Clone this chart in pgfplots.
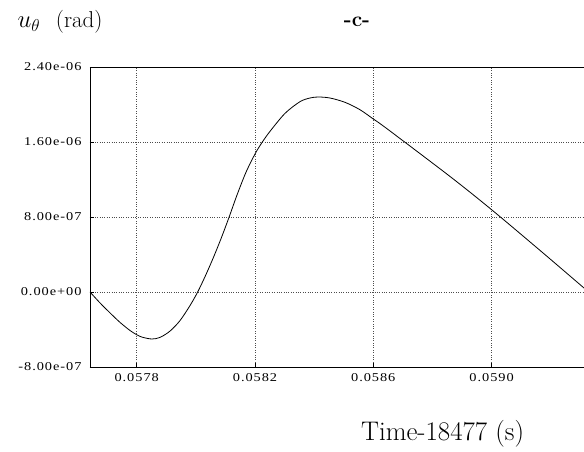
\documentclass[border=0pt]{standalone}
\usepackage{pgfplots}
\pgfplotsset{compat=1.18}
\usepackage{fontspec}
\newfontfamily\tickfont[FakeStretch=1.2,LetterSpace=8]{Liberation Serif}
\begin{document}
\begin{tikzpicture}
\useasboundingbox (-90bp,-85bp) rectangle (494bp,367bp);
\begin{axis}[
  at={(0,0)}, anchor=south west,
  scale only axis,
  width=494bp, height=300bp,
  xmin=0.0576421, xmax=0.0593124,
  ymin=-8e-7, ymax=2.4e-6,
  xtick={0.0578,0.0582,0.0586,0.0590},
  xticklabels={0.0578,0.0582,0.0586,0.0590},
  ytick={-8e-7,0,8e-7,1.6e-6,2.4e-6},
  yticklabels={-8.00e-07,0.00e+00,8.00e-07,1.60e-06,2.40e-06},
  scaled x ticks=false, scaled y ticks=false,
  grid=major,
  major grid style={black!70, dotted, line width=0.5pt},
  axis line style={black, line width=0.8pt},
  tick align=inside,
  major tick length=4bp,
  tick style={black, line width=0.5pt},
  xtick pos=bottom, ytick pos=left,
  /pgf/number format/assume math mode=true,
  tick label style={font=\tickfont\fontsize{12}{13}\selectfont},
  yticklabel style={xshift=-5bp},
  xticklabel style={yshift=-3bp},
  clip=true,
]
\addplot[black, line width=0.8bp, smooth] table {
0.0576421 0
0.0576759 -1.163e-7
0.0577098 -2.229e-7
0.0577436 -3.243e-7
0.0577774 -4.107e-7
0.0578000 -4.555e-7
0.0578179 -4.811e-7
0.0578507 -5.013e-7
0.0578788 -4.843e-7
0.0579126 -4.171e-7
0.0579464 -3.05e-7
0.0579802 -1.45e-7
0.0580062 0
0.0580309 1.63e-7
0.0580579 3.57e-7
0.0580850 5.68e-7
0.0581120 7.95e-7
0.0581390 1.033e-6
0.0581695 1.277e-6
0.0582000 1.472e-6
0.0582225 1.589e-6
0.0582506 1.713e-6
0.0583013 1.905e-6
0.0583520 2.0299e-6
0.0583858 2.0693e-6
0.0584139 2.080e-6
0.0584534 2.0693e-6
0.0585041 2.0235e-6
0.0585548 1.9445e-6
0.0586000 1.8454e-6
0.0586461 1.7419e-6
0.0588591 1.2331e-6
0.0590000 8.779e-7
0.0591633 4.448e-7
0.0593124 4.27e-8
};
\end{axis}
\node[anchor=base west, font=\fontsize{23}{27}\selectfont] at (-76bp,339bp) {$u_\theta$};
\node[anchor=base east, font=\fontsize{23}{27}\selectfont] at (16bp,339bp) {(rad)};
\node[anchor=base, font=\fontsize{21}{25}\selectfont\bfseries] at (267bp,340bp) {-c-};
\node[anchor=base, font=\fontsize{27}{32}\selectfont] at (352.6bp,-73bp) {Time-18477 (s)};
\end{tikzpicture}
\end{document}
